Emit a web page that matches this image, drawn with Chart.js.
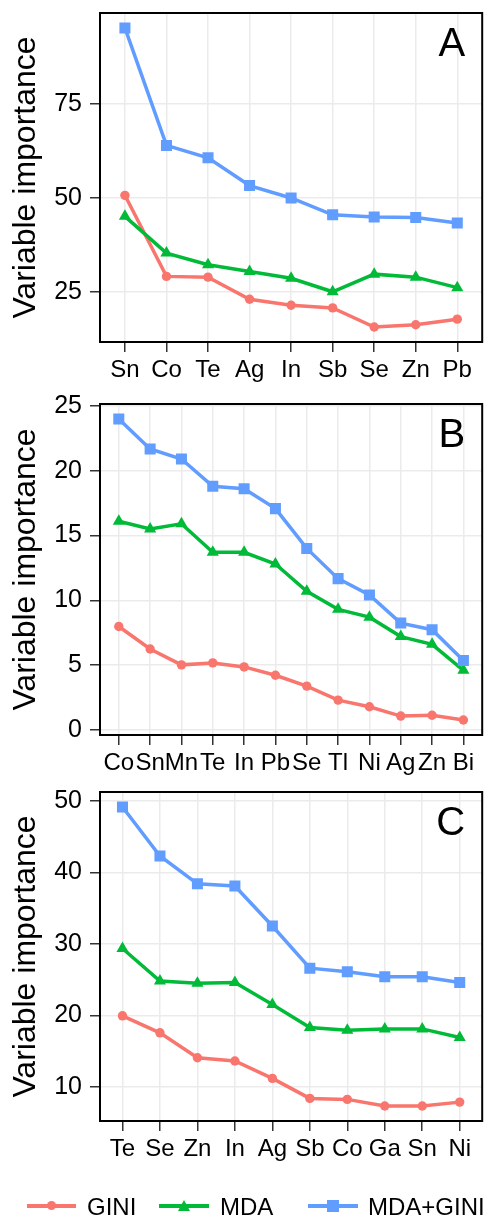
<!DOCTYPE html>
<html><head><meta charset="utf-8">
<script src="https://cdn.jsdelivr.net/npm/chart.js@4"></script>
<style>
html,body{margin:0;padding:0;background:#fff;width:490px;height:1218px;overflow:hidden;position:relative;}
canvas{position:absolute;left:0;}
.lg{position:absolute;}
.txt{position:absolute;top:1195px;font-family:"Liberation Sans",Arial,sans-serif;font-size:24px;line-height:24px;color:#000;white-space:nowrap;}
</style>
</head><body>
<canvas id="cA" width="490" height="415" style="top:-20px"></canvas>
<canvas id="cB" width="490" height="415" style="top:370px"></canvas>
<canvas id="cC" width="490" height="420" style="top:760px"></canvas>

<div class="lg" style="left:27px;top:1203.5px;width:49px;height:4px;background:#F8766D"></div>
<div class="lg" style="left:46.8px;top:1200.8px;width:9.4px;height:9.4px;border-radius:50%;background:#F8766D"></div>
<div class="txt" style="left:87px">GINI</div>

<div class="lg" style="left:159px;top:1203.5px;width:50px;height:4px;background:#00BA38"></div>
<div class="lg" style="left:177.5px;top:1199.5px;width:0;height:0;border-left:6.5px solid transparent;border-right:6.5px solid transparent;border-bottom:11.3px solid #00BA38"></div>
<div class="txt" style="left:220px">MDA</div>

<div class="lg" style="left:308px;top:1203.5px;width:50px;height:4px;background:#619CFF"></div>
<div class="lg" style="left:327px;top:1199.5px;width:12px;height:12px;background:#619CFF"></div>
<div class="txt" style="left:368px">MDA+GINI</div>

<script>
// Panel A
const catsA = ['Sn','Co','Te','Ag','In','Sb','Se','Zn','Pb'];
const giniA = [50.7,29.1,28.9,23.0,21.4,20.7,15.6,16.2,17.7];
const mdaA  = [45.1,35.3,32.2,30.4,28.6,25.0,29.7,28.9,26.1];
const bothA = [95.3,64.0,60.7,53.3,50.0,45.5,44.9,44.8,43.3];
const ticksA = [25,50,75];
// Panel B
const catsB = ['Co','Sn','Mn','Te','In','Pb','Se','Tl','Ni','Ag','Zn','Bi'];
const giniB = [7.98,6.24,5.02,5.17,4.86,4.22,3.38,2.30,1.79,1.07,1.13,0.77];
const mdaB  = [16.1,15.5,15.9,13.7,13.7,12.8,10.7,9.3,8.7,7.2,6.6,4.6];
const bothB = [23.98,21.67,20.9,18.8,18.6,17.07,14.0,11.67,10.41,8.24,7.73,5.35];
const ticksB = [0,5,10,15,20,25];
// Panel C
const catsC = ['Te','Se','Zn','In','Ag','Sb','Co','Ga','Sn','Ni'];
const giniC = [19.93,17.55,14.06,13.6,11.17,8.37,8.23,7.3,7.3,7.85];
const mdaC  = [29.35,24.8,24.5,24.6,21.5,18.3,17.9,18.1,18.1,16.9];
const bothC = [49.16,42.3,38.4,38.1,32.5,26.6,26.1,25.4,25.4,24.6];
const ticksC = [10,20,30,40,50];

const seriesNames = ['GINI','MDA','MDA+GINI'];
const colors = ['#F8766D','#00BA38','#619CFF'];
const FAM = '"Liberation Sans", Arial, sans-serif';

const framePlugin = {
  id:'frame',
  afterDraw(chart, args, opts){
    const {ctx, chartArea:a} = chart;
    ctx.save();
    ctx.strokeStyle = '#000'; ctx.lineWidth = 2;
    ctx.strokeRect(a.left, a.top, a.right-a.left, a.bottom-a.top);
    ctx.font = '40px ' + FAM;
    ctx.fillStyle = '#000'; ctx.textAlign = 'right'; ctx.textBaseline = 'alphabetic';
    ctx.fillText(opts.letter, a.right-17, a.top+42.5);
    ctx.restore();
  }
};

function makePanel(id, cats, gini, mda, both, yticks, letter, padTop, xH){
  const all = gini.concat(mda, both);
  const lo = Math.min(...all), hi = Math.max(...all);
  const ex = 0.05*(hi-lo);
  const toPts = arr => arr.map((v,i)=>({x:i,y:v}));
  const ds = (data, k, style, r, order) => ({
    label: seriesNames[k], data: toPts(data), borderColor: colors[k], backgroundColor: colors[k],
    borderWidth: 3.5, pointStyle: style, pointRadius: r, pointBorderWidth: 0,
    pointBackgroundColor: colors[k], tension: 0, order: order
  });
  const grid = {color:'#EBEBEB', lineWidth:1.5, drawTicks:true, tickLength:10, tickColor:'#333', tickWidth:1.5};
  new Chart(document.getElementById(id), {
    type:'line',
    data:{datasets:[
      ds(gini,0,'circle',4.7,3),
      ds(mda,1,'triangle',7,2),
      ds(both,2,'rect',7.8,1)
    ]},
    options:{
      responsive:false, animation:false, devicePixelRatio:1,
      layout:{padding:{top:padTop,right:3,left:0,bottom:0}},
      plugins:{legend:{display:false}, tooltip:{enabled:false}, frame:{letter:letter}},
      scales:{
        x:{type:'linear', min:-0.6, max:cats.length-1+0.6,
           afterBuildTicks:s=>{ s.ticks = cats.map((c,i)=>({value:i})); },
           afterFit:s=>{ s.height = xH; },
           ticks:{autoSkip:false, maxRotation:0, minRotation:0, padding:4, color:'#000',
                  font:{size:24, family:FAM}, callback:(v)=>cats[v]},
           grid:grid, border:{display:false}},
        y:{type:'linear', min:lo-ex, max:hi+ex,
           afterBuildTicks:s=>{ s.ticks = yticks.map(v=>({value:v})); },
           afterFit:s=>{ s.width = 100; },
           ticks:{padding:8, color:'#000', font:{size:25, family:FAM}},
           title:{display:true, text:'Variable importance', color:'#000', font:{size:32, family:FAM}, padding:{top:7,bottom:0}},
           grid:grid, border:{display:false}}
      }
    },
    plugins:[framePlugin]
  });
}

makePanel('cA', catsA, giniA, mdaA, bothA, ticksA, 'A', 33, 53);
makePanel('cB', catsB, giniB, mdaB, bothB, ticksB, 'B', 34, 50);
makePanel('cC', catsC, giniC, mdaC, bothC, ticksC, 'C', 32, 59);
</script>
</body></html>
